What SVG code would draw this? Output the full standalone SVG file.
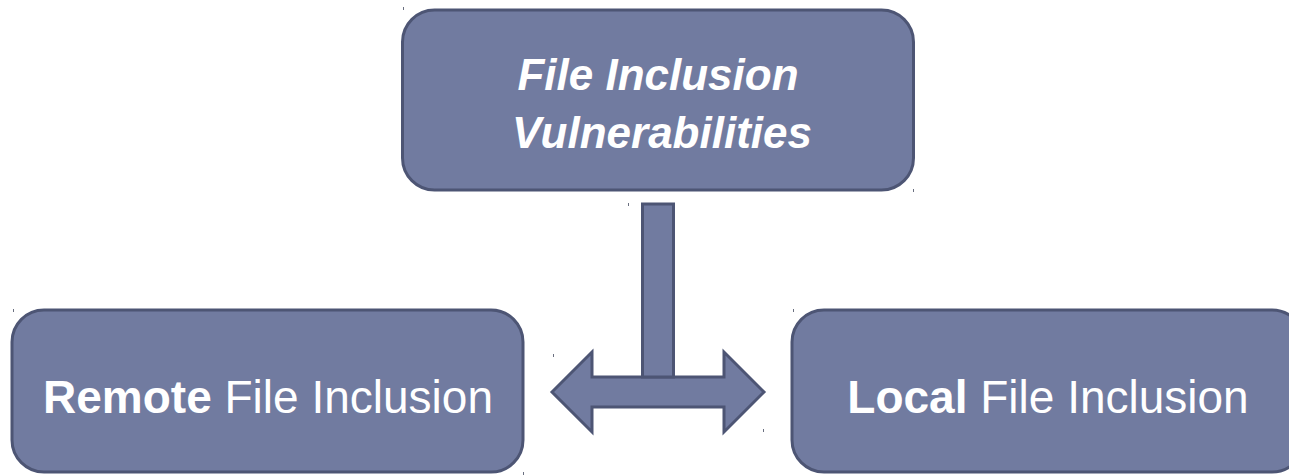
<svg xmlns="http://www.w3.org/2000/svg" width="1289" height="475" viewBox="0 0 1289 475">
  <style>
    .box { fill: #717ba0; stroke: #4d5574; stroke-width: 3; }
    .arrow { fill: #717ba0; stroke: #4d5574; stroke-width: 3; stroke-linejoin: miter; }
    .title { font-family: "Liberation Sans", Arial, sans-serif; font-weight: bold; font-style: italic; font-size: 44px; fill: #ffffff; text-anchor: middle; }
    .label { font-family: "Liberation Sans", Arial, sans-serif; font-size: 46px; fill: #ffffff; text-anchor: middle; }
    .label .strong { font-weight: bold; }
    .tick { stroke: #6a6f80; stroke-width: 1; }
  </style>

  <!-- top node -->
  <g id="node-fiv">
    <rect class="box" x="402.5" y="10" width="511" height="180" rx="32" ry="32"/>
    <text class="title" x="658" y="90">File Inclusion</text>
    <text class="title" x="662" y="148">Vulnerabilities</text>
  </g>

  <!-- left node -->
  <g id="node-rfi">
    <rect class="box" x="12" y="310" width="511" height="162" rx="32" ry="32"/>
    <text class="label" x="268" y="413"><tspan class="strong">Remote</tspan> File Inclusion</text>
  </g>

  <!-- right node -->
  <g id="node-lfi">
    <rect class="box" x="792" y="310" width="512" height="162" rx="32" ry="32"/>
    <text class="label" x="1048" y="413"><tspan class="strong">Local</tspan> File Inclusion</text>
  </g>

  <!-- connector: stem and double-headed arrow -->
  <g id="connectors">
    <path class="arrow" d="M552,392 L592,352 L592,377 L724,377 L724,352 L764,392 L724,432 L724,407 L592,407 L592,432 Z"/>
    <rect class="arrow" x="642.5" y="204" width="31" height="173"/>
  </g>

  <!-- small corner marks -->
  <g id="marks">
    <line class="tick" x1="403.5" y1="7" x2="403.5" y2="10"/>
    <line class="tick" x1="913.5" y1="189" x2="913.5" y2="192"/>
    <line class="tick" x1="628.5" y1="203" x2="628.5" y2="206"/>
    <line class="tick" x1="553.5" y1="354" x2="553.5" y2="357"/>
    <line class="tick" x1="763.5" y1="429" x2="763.5" y2="432"/>
    <line class="tick" x1="13.5" y1="309" x2="13.5" y2="312"/>
    <line class="tick" x1="523.5" y1="472" x2="523.5" y2="475"/>
    <line class="tick" x1="793.5" y1="309" x2="793.5" y2="312"/>
  </g>
</svg>
